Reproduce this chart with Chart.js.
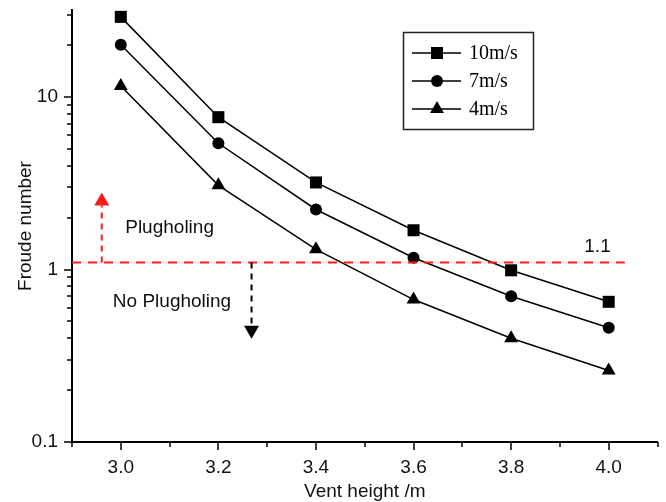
<!DOCTYPE html>
<html><head><meta charset="utf-8">
<script src="https://cdn.jsdelivr.net/npm/chart.js@4.4.1/dist/chart.umd.min.js"></script>
<style>html,body{margin:0;padding:0;background:#fff}#wrap{width:666px;height:502px}</style>
</head><body><div id="wrap"><canvas id="c" width="666" height="502"></canvas></div>
<script>
// ---- data ----
const ventHeights = [3.0, 3.2, 3.4, 3.6, 3.8, 4.0];
const froude10 = [29.2, 7.65, 3.2, 1.69, 0.99, 0.65];
const froude7  = [20.1, 5.4, 2.23, 1.17, 0.70, 0.46];
const froude4  = [11.6, 3.08, 1.31, 0.67, 0.40, 0.26];
const seriesLabels = ['10m/s', '7m/s', '4m/s'];
const xTickLabels = ['3.0', '3.2', '3.4', '3.6', '3.8', '4.0'];
const yTickLabels = ['0.1', '1', '10'];
const criticalFroude = 1.1;
const xMinorTicks = [2.9, 3.1, 3.3, 3.5, 3.7, 3.9, 4.1];
const yMajorTicks = [0.1, 1, 10];
const yMinorTicks = [0.2,0.3,0.4,0.5,0.6,0.7,0.8,0.9,2,3,4,5,6,7,8,9,20,30];

const SANS = "'Liberation Sans', Arial, sans-serif";
const SERIF = "'Liberation Serif', 'Times New Roman', serif";
const styles = ['rect', 'circle', 'triangle'];
const radii = [8.5, 6, 8];
const seriesData = [froude10, froude7, froude4];

const datasets = seriesData.map((vals, i) => ({
  label: seriesLabels[i],
  data: ventHeights.map((x, j) => ({x: x, y: vals[j]})),
  borderColor: '#000', backgroundColor: '#000', borderWidth: 1.5,
  pointStyle: styles[i], pointRadius: radii[i], pointBorderWidth: 0,
  pointBackgroundColor: '#000', tension: 0, fill: false, clip: false
}));

function drawMarker(ctx, style, x, y, r) {
  ctx.beginPath();
  if (style === 'rect') { const s = Math.SQRT1_2 * r; ctx.rect(x - s, y - s, 2*s, 2*s); }
  else if (style === 'circle') { ctx.arc(x, y, r, 0, Math.PI*2); }
  else { const w = r * Math.sqrt(3) / 2; ctx.moveTo(x, y - r); ctx.lineTo(x + w, y + r/2); ctx.lineTo(x - w, y + r/2); ctx.closePath(); }
  ctx.fillStyle = '#000'; ctx.fill();
}

function arrow(ctx, x, y0, y1, color, dash) {
  ctx.save();
  ctx.strokeStyle = color; ctx.fillStyle = color; ctx.lineWidth = 2;
  ctx.setLineDash(dash);
  const dir = y1 < y0 ? -1 : 1;
  const headLen = 13, headW = 7.5;
  ctx.beginPath(); ctx.moveTo(x, y0); ctx.lineTo(x, y1 - dir*headLen); ctx.stroke();
  ctx.setLineDash([]);
  ctx.beginPath(); ctx.moveTo(x, y1); ctx.lineTo(x - headW, y1 - dir*headLen); ctx.lineTo(x + headW, y1 - dir*headLen); ctx.closePath(); ctx.fill();
  ctx.restore();
}

const annotPlugin = {
  id: 'annot',
  afterDraw(chart) {
    const ctx = chart.ctx, xs = chart.scales.x, ys = chart.scales.y;
    const ca = chart.chartArea;
    ctx.save();
    // ticks
    ctx.strokeStyle = '#000'; ctx.lineWidth = 1.5;
    ventHeights.forEach(v => { const px = Math.round(xs.getPixelForValue(v)); ctx.beginPath(); ctx.moveTo(px, ca.bottom); ctx.lineTo(px, ca.bottom + 8); ctx.stroke(); });
    xMinorTicks.forEach(v => { const px = Math.round(xs.getPixelForValue(v)); ctx.beginPath(); ctx.moveTo(px, ca.bottom); ctx.lineTo(px, ca.bottom + 5); ctx.stroke(); });
    yMajorTicks.forEach(v => { const py = Math.round(ys.getPixelForValue(v)); ctx.beginPath(); ctx.moveTo(ca.left, py); ctx.lineTo(ca.left - 8, py); ctx.stroke(); });
    yMinorTicks.forEach(v => { const py = Math.round(ys.getPixelForValue(v)); ctx.beginPath(); ctx.moveTo(ca.left, py); ctx.lineTo(ca.left - 5, py); ctx.stroke(); });
    // critical line
    const ly = ys.getPixelForValue(criticalFroude);
    ctx.strokeStyle = '#ff1a1a'; ctx.lineWidth = 2; ctx.setLineDash([9, 7]);
    ctx.beginPath(); ctx.moveTo(ca.left, ly); ctx.lineTo(xs.getPixelForValue(4.033), ly); ctx.stroke();
    ctx.setLineDash([]);
    arrow(ctx, xs.getPixelForValue(2.961), ly, ys.getPixelForValue(2.8), '#ff1a1a', [6, 5]);
    arrow(ctx, xs.getPixelForValue(3.268), ly, ys.getPixelForValue(0.397), '#000', [6, 5]);
    // texts
    ctx.fillStyle = '#111'; ctx.font = '19px ' + SANS; ctx.textAlign = 'center'; ctx.textBaseline = 'middle';
    ctx.fillText('Plugholing', xs.getPixelForValue(3.1), ys.getPixelForValue(1.75));
    ctx.fillText('No Plugholing', xs.getPixelForValue(3.105), ys.getPixelForValue(0.65));
    ctx.fillText(String(criticalFroude), xs.getPixelForValue(3.977), ys.getPixelForValue(1.36));
    // legend
    ctx.strokeStyle = '#222'; ctx.lineWidth = 1.5;
    ctx.strokeRect(403.5, 32.5, 130, 97);
    ctx.font = '20px ' + SERIF; ctx.textAlign = 'left';
    const rows = [53, 81, 109];
    seriesLabels.forEach((lab, i) => {
      const y = rows[i];
      ctx.strokeStyle = '#000'; ctx.lineWidth = 1.5;
      ctx.beginPath(); ctx.moveTo(412, y); ctx.lineTo(461, y); ctx.stroke();
      drawMarker(ctx, styles[i], 437, y, radii[i]);
      ctx.fillStyle = '#000';
      ctx.fillText(lab, 469, y + 1);
    });
    ctx.restore();
  }
};

function zeroPad(s) { s.paddingTop = 0; s.paddingBottom = 0; s.paddingLeft = 0; s.paddingRight = 0; }

new Chart(document.getElementById('c'), {
  type: 'line',
  data: { datasets },
  plugins: [annotPlugin],
  options: {
    responsive: false, animation: false, devicePixelRatio: 1,
    layout: { padding: { top: 10, right: 8, left: 0, bottom: 0 } },
    plugins: { legend: { display: false }, tooltip: { enabled: false } },
    scales: {
      x: {
        type: 'linear', min: 2.9, max: 4.1,
        afterBuildTicks: s => { s.ticks = ventHeights.map(v => ({ value: v })); },
        afterFit: s => { s.height = 60; zeroPad(s); },
        grid: { display: false, drawTicks: false },
        border: { display: true, color: '#000', width: 2 },
        ticks: { autoSkip: false, maxRotation: 0, padding: 14, color: '#111',
          font: { family: SANS, size: 19 },
          callback: (v) => xTickLabels[ventHeights.findIndex(h => Math.abs(h - v) < 1e-6)] },
        title: { display: true, text: 'Vent height /m', color: '#111',
          font: { family: SANS, size: 19 }, padding: { top: 0, bottom: -1 } }
      },
      y: {
        type: 'logarithmic', min: 0.1, max: 32,
        afterBuildTicks: s => { s.ticks = yMajorTicks.map(v => ({ value: v })); },
        afterFit: s => { s.width = 72; zeroPad(s); },
        grid: { display: false, drawTicks: false },
        border: { display: true, color: '#000', width: 2 },
        ticks: { autoSkip: false, padding: 14, color: '#111',
          font: { family: SANS, size: 19 },
          callback: (v) => { const i = yMajorTicks.findIndex(t => Math.abs(t - v) < 1e-9); return i >= 0 ? yTickLabels[i] : ''; } },
        title: { display: true, text: 'Froude number', color: '#111',
          font: { family: SANS, size: 19 }, padding: { top: 14, bottom: 0 } }
      }
    }
  }
});
</script></body></html>
